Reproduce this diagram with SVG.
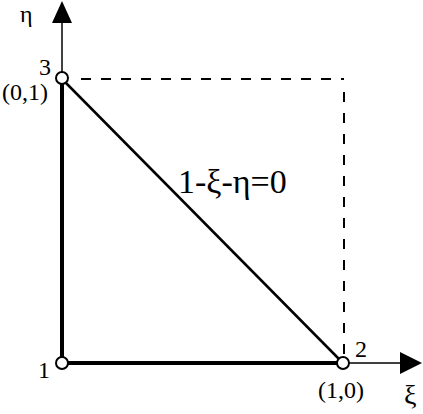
<svg xmlns="http://www.w3.org/2000/svg" width="423" height="414" viewBox="0 0 423 414">
<style>
.t{font-family:"Liberation Serif","DejaVu Serif",serif;fill:#000}
.axis{stroke:#000;stroke-width:1.5;fill:none}
.edge{stroke:#000;stroke-width:4;fill:none}
.diag{stroke:#000;stroke-width:2.5;fill:none}
.dash{stroke:#000;stroke-width:2;stroke-dasharray:10,10;fill:none}
.node{fill:#fff;stroke:#000;stroke-width:2}
</style>
<rect width="423" height="414" fill="#fff"/>
<g id="connectors">
<line class="axis" x1="62" y1="78" x2="62" y2="20"/>
<polygon points="62,1 52,23 72,23" fill="#000"/>
<line class="axis" x1="343" y1="363" x2="402" y2="363"/>
<polygon points="422,363 400,352 400,374" fill="#000"/>
<line class="dash" x1="81" y1="79" x2="344" y2="79"/>
<line class="dash" x1="344" y1="92" x2="344" y2="357" style="stroke-dasharray:10,11"/>
<line class="edge" x1="62" y1="84" x2="62" y2="357"/>
<line class="edge" x1="68" y1="363" x2="337" y2="363"/>
<line class="diag" x1="66" y1="83" x2="339" y2="359"/>
</g>
<g id="node1"><circle class="node" cx="62" cy="363" r="6"/><text class="t" font-family="Liberation Serif" x="38" y="378" font-size="24">1</text></g>
<g id="node2"><circle class="node" cx="343" cy="363" r="6"/><text class="t" font-family="Liberation Serif" x="355" y="357" font-size="24">2</text><text class="t" font-family="Liberation Serif" x="318" y="398" font-size="24">(1,0)</text></g>
<g id="node3"><circle class="node" cx="62" cy="78" r="6"/><text class="t" font-family="Liberation Serif" x="39" y="75" font-size="24">3</text><text class="t" font-family="Liberation Serif" x="2" y="100" font-size="24">(0,1)</text></g>
<text class="t" font-family="Liberation Serif" x="20" y="22" font-size="24">η</text>
<text class="t" font-family="Liberation Serif" x="404" y="404" font-size="28">ξ</text>
<text class="t" font-family="Liberation Serif" x="178" y="193" font-size="34">1-ξ-η=0</text>
</svg>
